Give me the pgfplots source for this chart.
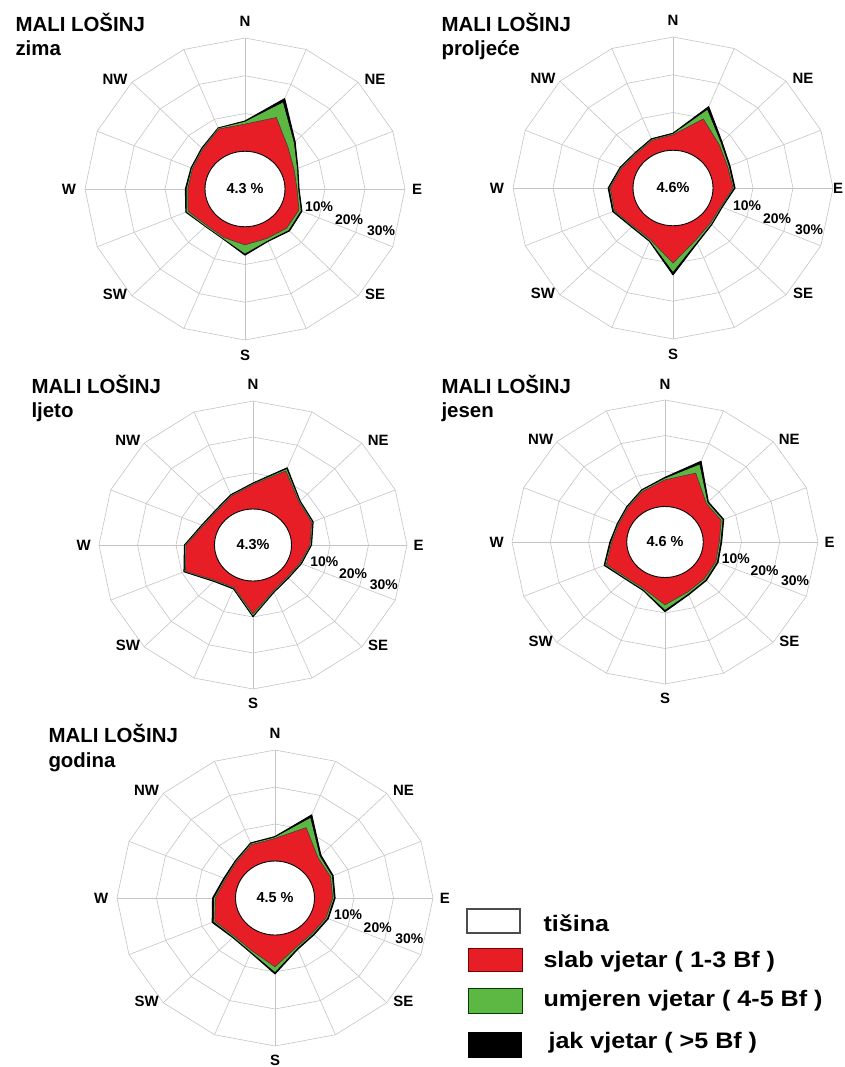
\documentclass[border=0pt]{standalone}
\usepackage{fontspec}
\setmainfont{Liberation Sans}
\newfontfamily\legfont{Liberation Sans}[FakeStretch=1.12]
\usepackage{pgfplots}
\usepackage{pgfplotstable}
\pgfplotsset{compat=1.18}
\definecolor{wred}{RGB}{232,30,38}
\definecolor{wgreen}{RGB}{92,184,66}
\definecolor{gridc}{RGB}{196,196,196}

% a = direction (deg from N), r = slab (1-3 Bf), g = umjeren (4-5 Bf), b = jak (>5 Bf), in %
\pgfplotstableread{
a r g b
0 7.2 0.6 0.2
22.5 10.5 4.3 1.1
45 5.3 2.0 0.4
67.5 3.3 0.8 0.2
90 3.0 0.3 0.2
112.5 4.6 0.5 0.3
135 4.7 0.7 0.3
157.5 4.2 0.6 0.2
180 4.8 2.3 0.4
202.5 3.9 0.3 0.1
225 3.6 0.3 0.1
247.5 5.4 0.4 0.2
270 4.3 0.3 0.3
292.5 4.2 0.2 0.2
315 4.9 0.2 0.2
337.5 7.2 0.2 0.1
360 7.2 0.6 0.2
}\zima
\pgfplotstableread{
a r g b
0 4.1 0.2 0.2
22.5 9.8 2.6 0.9
45 6.3 0.6 0.4
67.5 4.8 0.3 0.3
90 5.0 0.2 0.3
112.5 2.9 0.2 0.2
135 3.2 0.3 0.2
157.5 4.9 0.6 0.3
180 9.9 2.3 0.8
202.5 4.8 0.3 0.2
225 4.2 0.2 0.2
247.5 5.8 0.2 0.3
270 5.7 0.2 0.3
292.5 3.9 0.2 0.2
315 2.9 0.2 0.2
337.5 3.7 0.2 0.2
360 4.1 0.2 0.2
}\proljece
\pgfplotstableread{
a r g b
0 6.8 0.2 0.2
22.5 12.3 0.5 0.4
45 6.9 0.2 0.2
67.5 6.5 0.2 0.2
90 4.8 0.2 0.2
112.5 3.2 0.2 0.2
135 2.6 0.2 0.2
157.5 3.8 0.2 0.2
180 9.1 0.5 0.3
202.5 2.8 0.2 0.2
225 3.9 0.2 0.2
247.5 9.0 0.2 0.2
270 7.4 0.2 0.2
292.5 4.0 0.2 0.2
315 3.3 0.2 0.2
337.5 4.7 0.2 0.2
360 6.8 0.2 0.2
}\ljeto
\pgfplotstableread{
a r g b
0 7.5 0.4 0.3
22.5 11.0 2.6 1.0
45 5.3 0.4 0.3
67.5 5.9 0.4 0.3
90 4.2 0.3 0.3
112.5 4.4 0.3 0.3
135 4.6 0.4 0.3
157.5 5.3 0.5 0.3
180 7.7 1.4 0.5
202.5 4.3 0.3 0.2
225 4.2 0.3 0.2
247.5 6.6 0.3 0.3
270 3.9 0.2 0.3
292.5 3.1 0.2 0.2
315 3.7 0.2 0.2
337.5 5.4 0.3 0.2
360 7.5 0.4 0.3
}\jesen
\pgfplotstableread{
a r g b
0 6.1 0.3 0.2
22.5 10.6 2.8 0.9
45 5.4 0.6 0.4
67.5 5.2 0.4 0.3
90 4.6 0.3 0.3
112.5 4.0 0.3 0.3
135 3.4 0.3 0.3
157.5 4.3 0.4 0.3
180 8.6 1.4 0.5
202.5 5.4 0.4 0.2
225 4.6 0.3 0.2
247.5 6.5 0.3 0.4
270 5.1 0.3 0.4
292.5 3.5 0.2 0.3
315 3.8 0.2 0.2
337.5 5.6 0.3 0.2
360 6.1 0.3 0.2
}\godina

\tikzset{
  dirlab/.style={font=\bfseries\fontsize{15}{15}\selectfont},
  pctlab/.style={font=\bfseries\fontsize{14}{14}\selectfont},
  ttl/.style={anchor=base west,font=\bfseries\fontsize{20.5}{21}\selectfont},
  gl/.style={draw=gridc,line width=0.6bp},
}

% #1 cx, #2 cy (px from top-left), #3 x unit, #4 y unit, #5 table, #6 calm text, #7 x of E label
\newcommand\rose[7]{%
\begin{scope}[shift={(#1bp,-#2bp)},x=#3bp,y=#4bp]
  \foreach \a in {0,22.5,...,337.5}
    \draw[gl] ({10*sin(\a)},{10*cos(\a)}) -- ({40*sin(\a)},{40*cos(\a)});
  \foreach \rr in {20,30,40}
    \draw[gl] plot[samples at={0,22.5,...,337.5},variable=\t] ({\rr*sin(\t)},{\rr*cos(\t)}) -- cycle;
\end{scope}
\begin{axis}[at={(#1bp,-#2bp)},anchor=center,x=#3bp,y=#4bp,
  xmin=-40,xmax=40,ymin=-40,ymax=40,hide axis,clip=false]
  \addplot[fill=black,draw=black,line width=1.1bp,line join=round] table[
    x expr={(10+\thisrow{r}+\thisrow{g}+\thisrow{b})*sin(\thisrow{a})},
    y expr={(10+\thisrow{r}+\thisrow{g}+\thisrow{b})*cos(\thisrow{a})}] {#5};
  \addplot[fill=wgreen,draw=none] table[
    x expr={(10+\thisrow{r}+\thisrow{g})*sin(\thisrow{a})},
    y expr={(10+\thisrow{r}+\thisrow{g})*cos(\thisrow{a})}] {#5};
  \addplot[fill=wred,draw=black!75,line width=0.6bp,line join=round] table[
    x expr={(10+\thisrow{r})*sin(\thisrow{a})},
    y expr={(10+\thisrow{r})*cos(\thisrow{a})}] {#5};
\end{axis}
\begin{scope}[shift={(#1bp,-#2bp)},x=#3bp,y=#4bp]
  \draw[fill=white,line width=0.9bp] (0,0) ellipse [x radius=10,y radius=10];
  \node[font=\bfseries\fontsize{14.5}{15}\selectfont] at (0,0) {#6};
  \node[dirlab] at (0,44.5) {N};
  \node[dirlab] at (0,-44) {S};
  \node[dirlab] at (#7,0) {E};
  \node[dirlab] at (-44,0) {W};
  \node[dirlab] at (32.5,29) {NE};
  \node[dirlab] at (-32.5,29) {NW};
  \node[dirlab] at (32.5,-28) {SE};
  \node[dirlab] at (-32.5,-28) {SW};
  \node[pctlab] at (18.5,-4.6) {10\%};
  \node[pctlab] at (26,-8) {20\%};
  \node[pctlab] at (34,-11) {30\%};
\end{scope}}

\begin{document}
\begin{tikzpicture}
\path[use as bounding box] (0,0) rectangle (845bp,-1067bp);

\rose{245}{189}{4}{3.775}{\zima}{4.3 \%}{43}
\rose{673}{188}{4}{3.775}{\proljece}{4.6\%}{41.3}
\rose{253}{545}{3.85}{3.6}{\ljeto}{4.3\%}{43}
\rose{665}{542}{3.825}{3.55}{\jesen}{4.6 \%}{43}
\rose{275}{898}{3.95}{3.7}{\godina}{4.5 \%}{43}

\node[ttl] at (12bp,-31bp) {MALI LOŠINJ};
\node[ttl] at (12bp,-55bp) {zima};
\node[ttl] at (438bp,-31bp) {MALI LOŠINJ};
\node[ttl] at (438bp,-55bp) {proljeće};
\node[ttl] at (28bp,-393bp) {MALI LOŠINJ};
\node[ttl] at (28bp,-417bp) {ljeto};
\node[ttl] at (438bp,-393bp) {MALI LOŠINJ};
\node[ttl] at (438bp,-417bp) {jesen};
\node[ttl] at (45bp,-742bp) {MALI LOŠINJ};
\node[ttl] at (45bp,-767bp) {godina};

% legend
\draw[draw=black!70,line width=1.2bp,fill=white] (467bp,-909bp) rectangle (520bp,-933bp);
\draw[draw=red!45!black,line width=1bp,fill=wred] (468bp,-948bp) rectangle (522bp,-971bp);
\draw[draw=green!25!black,line width=1bp,fill=wgreen] (468bp,-988bp) rectangle (522bp,-1013bp);
\fill[black] (468bp,-1032bp) rectangle (522bp,-1058bp);
\begin{scope}[every node/.style={anchor=base west,font=\legfont\bfseries\fontsize{22.5}{22.5}\selectfont}]
\node at (540bp,-931bp) {tišina};
\node at (540bp,-967bp) {slab vjetar ( 1-3 Bf )};
\node at (540bp,-1006bp) {umjeren vjetar ( 4-5 Bf )};
\node at (545bp,-1048bp) {jak vjetar ( >5 Bf )};
\end{scope}
\end{tikzpicture}
\end{document}
